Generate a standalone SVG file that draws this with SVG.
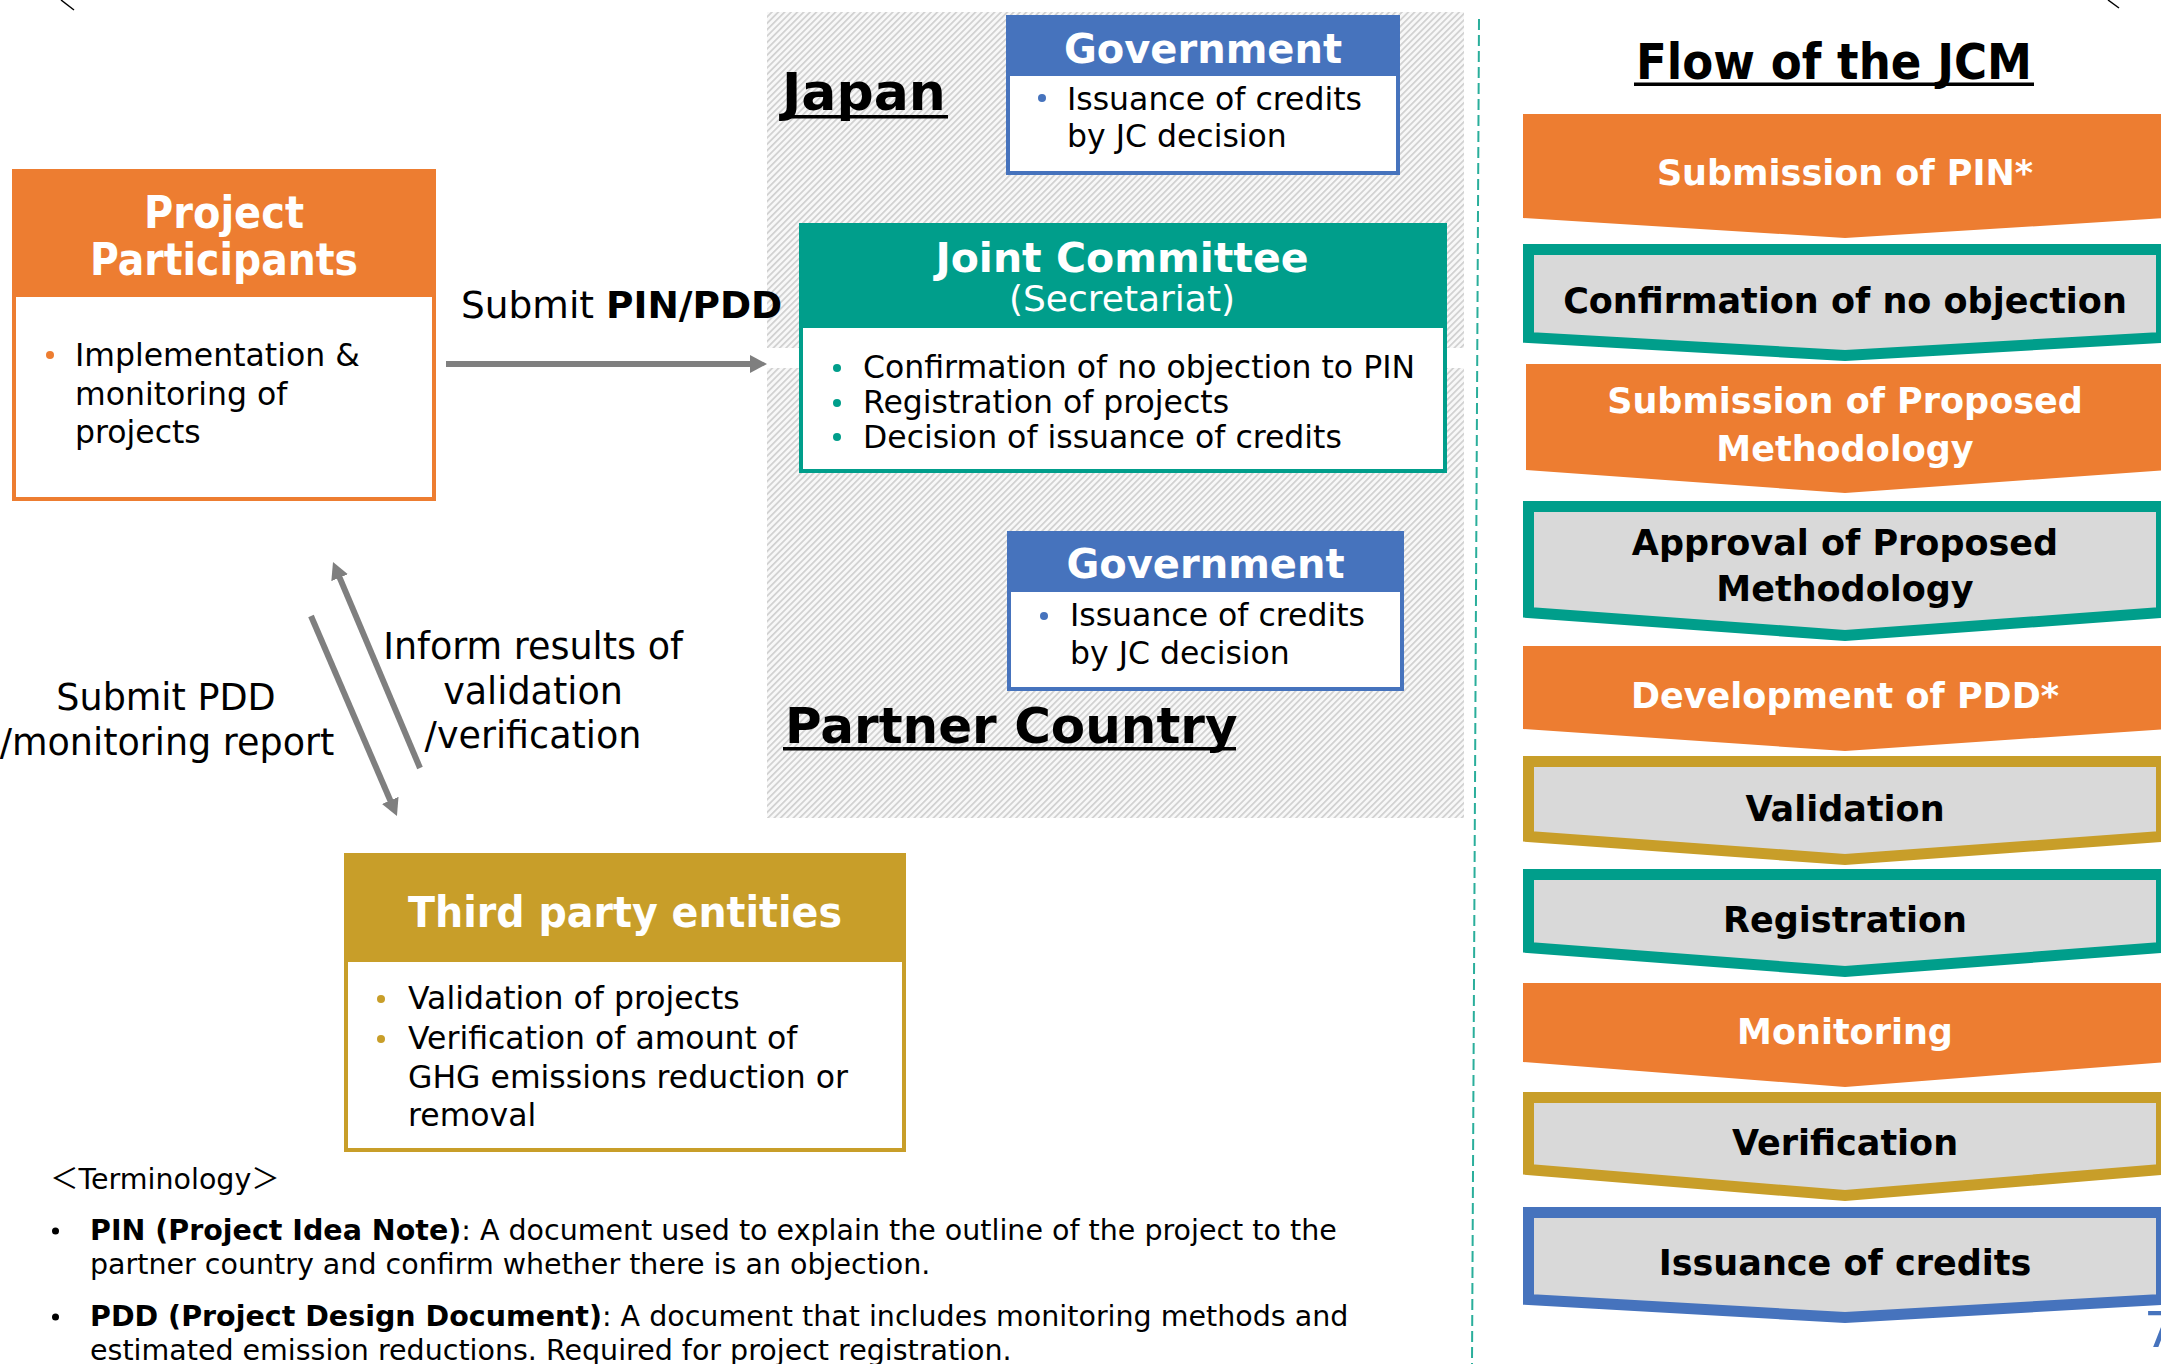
<svg xmlns="http://www.w3.org/2000/svg" width="2161" height="1364" viewBox="0 0 2161 1364">
<defs>
<style>
text { font-family: 'DejaVu Sans', 'Noto Sans CJK JP', sans-serif; fill: #000; }
.b { font-weight: bold; }
.w { fill: #fff; }
.m { text-anchor: middle; }
.f31 { font-size: 31.5px; }
.lbl { font-size: 36.5px; }
.term { font-size: 28.5px; }
.chv { font-size: 35px; font-weight: bold; text-anchor: middle; }
.arrow { stroke: #7F7F7F; stroke-width: 6; fill: none; marker-end: url(#ah); }
.orange { fill: #ED7D31; }
.teal { fill: #009E8B; }
.blue { fill: #4673BD; }
.gold { fill: #C89E29; }
.bord { fill: #D9D9D9; stroke-width: 11; stroke-linejoin: miter; }
</style>
<pattern id="hatch" patternUnits="userSpaceOnUse" width="4.5" height="4.5" patternTransform="rotate(45)">
<rect width="4.5" height="4.5" fill="#f8f8f8"/>
<rect width="1.7" height="4.5" fill="#d0d0d0"/>
</pattern>
<marker id="ah" markerUnits="userSpaceOnUse" markerWidth="18" markerHeight="18" refX="7" refY="9" orient="auto">
<path d="M0,0 L17,9 L0,18 z" fill="#7F7F7F"/>
</marker>
</defs>
<rect width="2161" height="1364" fill="#fff"/>

<g id="corner-marks" stroke="#000" stroke-width="1.5">
<line x1="61" y1="0" x2="74" y2="10"/>
<line x1="2108" y1="0" x2="2119" y2="8"/>
</g>

<g id="zone-japan">
<rect x="767" y="12" width="697" height="336" fill="url(#hatch)"/>
<text class="b" x="782" y="110" font-size="52">Japan</text>
<rect x="782" y="115" width="166" height="3.5" fill="#000"/>
</g>

<g id="zone-partner">
<rect x="767" y="368" width="697" height="450" fill="url(#hatch)"/>
<text class="b" x="785" y="743" font-size="50">Partner Country</text>
<rect x="783" y="747" width="453" height="3.5" fill="#000"/>
</g>

<g id="separator">
<line x1="1479" y1="19" x2="1472" y2="1364" stroke="#2AAE9B" stroke-width="2" stroke-dasharray="11 5"/>
</g>

<g id="node-project-participants">
<rect x="14" y="171" width="420" height="328" fill="#fff" stroke="#ED7D31" stroke-width="4"/>
<rect x="12" y="169" width="424" height="128" class="orange"/>
<text class="b w m" x="224" y="228" font-size="44" textLength="160" lengthAdjust="spacingAndGlyphs">Project</text>
<text class="b w m" x="224" y="275" font-size="44" textLength="268" lengthAdjust="spacingAndGlyphs">Participants</text>
<circle cx="50" cy="355" r="4" class="orange"/>
<text class="f31" x="75" y="366">Implementation &amp;</text>
<text class="f31" x="75" y="404.5">monitoring of</text>
<text class="f31" x="75" y="443">projects</text>
</g>

<g id="node-gov-japan">
<rect x="1008" y="17" width="390" height="156" fill="#fff" stroke="#4673BD" stroke-width="4"/>
<rect x="1006" y="15" width="394" height="61" class="blue"/>
<text class="b w m" x="1203" y="63" font-size="40">Government</text>
<circle cx="1042" cy="98" r="4" class="blue"/>
<text class="f31" x="1067" y="110">Issuance of credits</text>
<text class="f31" x="1067" y="147">by JC decision</text>
</g>

<g id="node-joint-committee">
<rect x="801" y="225" width="644" height="246" fill="#fff" stroke="#009E8B" stroke-width="4"/>
<rect x="799" y="223" width="648" height="105" class="teal"/>
<text class="b w m" x="1122" y="272" font-size="41">Joint Committee</text>
<text class="w m" x="1122" y="311" font-size="36">(Secretariat)</text>
<circle cx="837" cy="368" r="4" class="teal"/>
<circle cx="837" cy="403" r="4" class="teal"/>
<circle cx="837" cy="437" r="4" class="teal"/>
<text class="f31" x="863" y="378">Confirmation of no objection to PIN</text>
<text class="f31" x="863" y="413">Registration of projects</text>
<text class="f31" x="863" y="448">Decision of issuance of credits</text>
</g>

<g id="node-gov-partner">
<rect x="1009" y="533" width="393" height="156" fill="#fff" stroke="#4673BD" stroke-width="4"/>
<rect x="1007" y="531" width="397" height="61" class="blue"/>
<text class="b w m" x="1205.5" y="578" font-size="40">Government</text>
<circle cx="1044" cy="616" r="4" class="blue"/>
<text class="f31" x="1070" y="626">Issuance of credits</text>
<text class="f31" x="1070" y="664">by JC decision</text>
</g>

<g id="node-third-party">
<rect x="346" y="855" width="558" height="295" fill="#fff" stroke="#C89E29" stroke-width="4"/>
<rect x="344" y="853" width="562" height="109" class="gold"/>
<text class="b w m" x="625" y="927" font-size="42" textLength="434" lengthAdjust="spacingAndGlyphs">Third party entities</text>
<circle cx="381" cy="999" r="4" class="gold"/>
<circle cx="381" cy="1039" r="4" class="gold"/>
<text class="f31" x="408" y="1009">Validation of projects</text>
<text class="f31" x="408" y="1049">Verification of amount of</text>
<text class="f31" x="408" y="1088">GHG emissions reduction or</text>
<text class="f31" x="408" y="1126">removal</text>
</g>

<g id="connectors">
<line class="arrow" x1="446" y1="364" x2="757" y2="364"/>
<line class="arrow" x1="420" y1="768" x2="336.9" y2="571.2"/>
<line class="arrow" x1="311" y1="616" x2="393" y2="806.8"/>
<text class="lbl" x="461" y="318" font-size="37.5" style="font-size:37.5px">Submit <tspan class="b">PIN/PDD</tspan></text>
<text class="lbl m" x="166" y="710">Submit PDD</text>
<text class="lbl m" x="167" y="755">/monitoring report</text>
<text class="lbl m" x="533" y="659">Inform results of</text>
<text class="lbl m" x="533" y="704">validation</text>
<text class="lbl m" x="533" y="748">/verification</text>
</g>

<g id="terminology">
<text class="term" x="50" y="1189">＜Terminology＞</text>
<circle cx="55.5" cy="1231" r="3.5" fill="#000"/>
<text class="term" x="90" y="1240"><tspan class="b">PIN (Project Idea Note)</tspan>: A document used to explain the outline of the project to the</text>
<text class="term" x="90" y="1274">partner country and confirm whether there is an objection.</text>
<circle cx="55.5" cy="1317" r="3.5" fill="#000"/>
<text class="term" x="90" y="1326"><tspan class="b">PDD (Project Design Document)</tspan>: A document that includes monitoring methods and</text>
<text class="term" x="90" y="1360">estimated emission reductions. Required for project registration.</text>
</g>

<g id="flow-title">
<text class="b m" x="1834" y="79" font-size="50" textLength="396" lengthAdjust="spacingAndGlyphs">Flow of the JCM</text>
<rect x="1634" y="82.5" width="400" height="3.5" fill="#000"/>
</g>

<g id="step-submission-pin">
<polygon class="orange" points="1523,114 2167,114 2167,218 1845,238 1523,218"/>
<text class="chv w" x="1845" y="185">Submission of PIN*</text>
</g>
<g id="step-confirmation">
<polygon class="bord" stroke="#009E8B" points="1528.5,249.5 2161.5,249.5 2161.5,337.5 1845,355.5 1528.5,337.5"/>
<text class="chv" x="1845" y="313">Confirmation of no objection</text>
</g>
<g id="step-submission-methodology">
<polygon class="orange" points="1526,364 2167,364 2167,470 1845,493 1526,470"/>
<text class="chv w" x="1845" y="413">Submission of Proposed</text>
<text class="chv w" x="1845" y="461">Methodology</text>
</g>
<g id="step-approval">
<polygon class="bord" stroke="#009E8B" points="1528.5,506.5 2161.5,506.5 2161.5,612.5 1845,635.5 1528.5,612.5"/>
<text class="chv" x="1845" y="555">Approval of Proposed</text>
<text class="chv" x="1845" y="601">Methodology</text>
</g>
<g id="step-development-pdd">
<polygon class="orange" points="1523,646 2167,646 2167,729 1845,751 1523,729"/>
<text class="chv w" x="1845" y="708">Development of PDD*</text>
</g>
<g id="step-validation">
<polygon class="bord" stroke="#C89E29" points="1528.5,761.5 2161.5,761.5 2161.5,836.5 1845,859.5 1528.5,836.5"/>
<text class="chv" x="1845" y="821">Validation</text>
</g>
<g id="step-registration">
<polygon class="bord" stroke="#009E8B" points="1528.5,874.5 2161.5,874.5 2161.5,947.5 1845,971.5 1528.5,947.5"/>
<text class="chv" x="1845" y="932">Registration</text>
</g>
<g id="step-monitoring">
<polygon class="orange" points="1523,983 2167,983 2167,1062 1845,1087 1523,1062"/>
<text class="chv w" x="1845" y="1044">Monitoring</text>
</g>
<g id="step-verification">
<polygon class="bord" stroke="#C89E29" points="1528.5,1097.5 2161.5,1097.5 2161.5,1169.5 1845,1195.5 1528.5,1169.5"/>
<text class="chv" x="1845" y="1155">Verification</text>
</g>
<g id="step-issuance">
<polygon class="bord" stroke="#4673BD" points="1528.5,1212.5 2161.5,1212.5 2161.5,1299.5 1845,1317.5 1528.5,1299.5"/>
<text class="chv" x="1845" y="1275">Issuance of credits</text>
</g>

<g id="page-number">
<text x="2144" y="1347" font-size="50" style="fill:#4673BD">7</text>
</g>
</svg>
